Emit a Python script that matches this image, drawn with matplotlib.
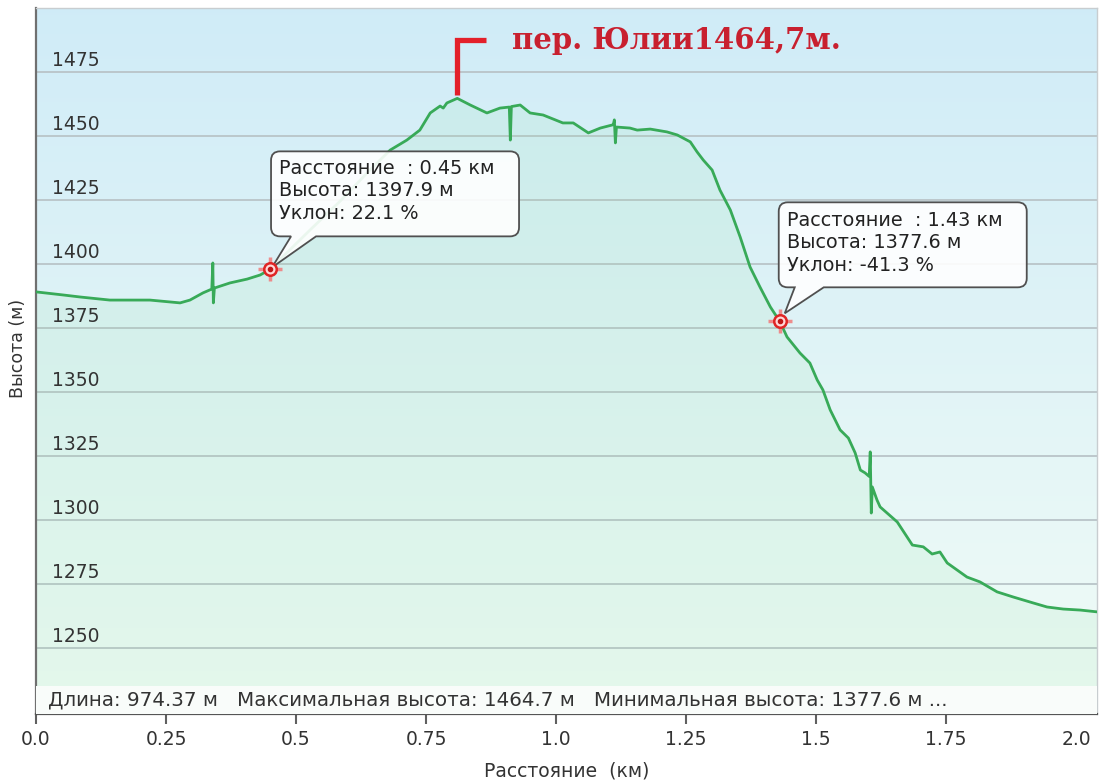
import numpy as np
import matplotlib
matplotlib.use("Agg")
import matplotlib.pyplot as plt
from matplotlib import transforms
from matplotlib.path import Path
from matplotlib.patches import PathPatch, Rectangle

# ---------------- data ----------------
dist_km = [0.000, 0.052, 0.085, 0.142, 0.219, 0.277, 0.296, 0.321, 0.338,
           0.340, 0.341, 0.343, 0.373, 0.406, 0.431, 0.450, 0.488, 0.527,
           0.585, 0.642, 0.681, 0.713, 0.738, 0.758, 0.777, 0.783, 0.790,
           0.810, 0.835, 0.867, 0.892, 0.910, 0.912, 0.914, 0.931, 0.950,
           0.975, 1.013, 1.033, 1.062, 1.085, 1.108, 1.110, 1.112, 1.114,
           1.116, 1.142, 1.156, 1.181, 1.213, 1.233, 1.258, 1.271, 1.283,
           1.300, 1.315, 1.335, 1.354, 1.373, 1.392, 1.412, 1.430, 1.444,
           1.469, 1.488, 1.502, 1.513, 1.527, 1.546, 1.562, 1.575, 1.585,
           1.594, 1.602, 1.604, 1.606, 1.608, 1.617, 1.623, 1.656, 1.685,
           1.706, 1.723, 1.738, 1.752, 1.790, 1.815, 1.848, 1.879, 1.917,
           1.944, 1.975, 2.008, 2.040]
elev_m = [1389.1, 1387.9, 1387.1, 1385.9, 1385.9, 1384.8, 1385.9, 1388.7, 1390.2,
          1400.4, 1384.8, 1390.6, 1392.6, 1394.1, 1395.7, 1397.9, 1405.5, 1413.3,
          1424.6, 1436.7, 1444.5, 1448.4, 1452.3, 1459.0, 1461.7, 1460.9, 1462.9,
          1464.7, 1462.1, 1459.0, 1460.9, 1461.3, 1448.4, 1461.5, 1462.1, 1459.0,
          1458.2, 1455.1, 1455.1, 1451.2, 1453.1, 1454.3, 1454.5, 1456.3, 1447.3,
          1453.5, 1453.1, 1452.3, 1452.7, 1451.6, 1450.4, 1447.7, 1443.8, 1440.6,
          1436.7, 1428.9, 1421.1, 1410.5, 1398.8, 1391.0, 1383.2, 1377.6, 1371.5,
          1365.2, 1361.3, 1354.7, 1350.8, 1343.0, 1335.2, 1332.0, 1326.2, 1319.5,
          1318.4, 1317.0, 1326.6, 1302.7, 1312.9, 1307.8, 1305.1, 1299.2, 1290.2,
          1289.5, 1286.7, 1287.5, 1283.2, 1277.7, 1275.8, 1271.9, 1269.9, 1267.6,
          1266.0, 1265.2, 1264.8, 1264.1]

x_ticks = [0.0, 0.25, 0.5, 0.75, 1.0, 1.25, 1.5, 1.75, 2.0]
x_tick_labels = ["0.0", "0.25", "0.5", "0.75", "1.0", "1.25", "1.5", "1.75", "2.0"]
y_ticks = [1250, 1275, 1300, 1325, 1350, 1375, 1400, 1425, 1450, 1475]

points_km = [0.45, 1.43]
points_elev = [1397.9, 1377.6]
points_text = [["Расстояние  : 0.45 км", "Высота: 1397.9 м", "Уклон: 22.1 %"],
               ["Расстояние  : 1.43 км", "Высота: 1377.6 м", "Уклон: -41.3 %"]]

peak_km, peak_elev = 0.81, 1464.7
peak_label = "пер. Юлии1464,7м."
summary = "Длина: 974.37 м   Максимальная высота: 1464.7 м   Минимальная высота: 1377.6 м ..."

# ---------------- figure ----------------
plt.rcParams['font.family'] = ['DejaVu Sans']
W, H = 1101, 784
fig = plt.figure(figsize=(W / 100, H / 100), dpi=100)
ax = fig.add_axes([36 / W, 1 - 714 / H, (1097 - 36) / W, (714 - 8) / H])
ax.set_xlim(0, 2.04)
ax.set_ylim(1224.2, 1500)

# background gradient
grad = np.linspace(0, 1, 256).reshape(-1, 1)
c_top = np.array([0.815, 0.925, 0.970])
c_bot = np.array([0.945, 0.988, 0.965])
img = c_top[None, None, :] * (1 - grad[:, :, None]) + c_bot[None, None, :] * grad[:, :, None]
ax.imshow(img, extent=[0, 1, 0, 1], transform=ax.transAxes, aspect='auto',
          zorder=0, interpolation='bilinear')

# grid
for v in y_ticks:
    ax.axhline(v, color='#b9c4c8', lw=1.3, zorder=1)

# fill under curve
ax.fill_between(dist_km, elev_m, 1200, color='#8ee0a2', alpha=0.12, lw=0, zorder=2)
ax.plot(dist_km, elev_m, color='#38aa58', lw=2.0, zorder=3, solid_joinstyle='round')

# bottom summary strip
ax.add_patch(Rectangle((0, 0), 1, 28 / 706, transform=ax.transAxes,
                       facecolor='#f9fcfa', edgecolor='none', zorder=4))
ax.text(12 / 1061, 14 / 706, summary, transform=ax.transAxes, fontsize=14.3,
        color='#333333', va='center', ha='left', zorder=5)

# y tick labels inside
ytrans = transforms.offset_copy(ax.get_yaxis_transform(), fig=fig, x=0, y=2, units='dots')
for v in y_ticks:
    ax.text(16 / 1061, v, str(v), transform=ytrans, fontsize=13.5, color='#333333',
            ha='left', va='bottom', zorder=5)

ax.set_yticks([])
ax.set_xticks(x_ticks)
ax.set_xticklabels(x_tick_labels, fontsize=13.5, color='#333333')
ax.tick_params(axis='x', direction='out', length=7.2, width=1.5, color='#606060', pad=4)
ax.xaxis.get_major_ticks()[-1].tick1line.set_visible(False)

for s in ['top', 'right']:
    ax.spines[s].set_color('#c8cdd0')
    ax.spines[s].set_linewidth(1)
ax.spines['left'].set_color('#707070')
ax.spines['left'].set_linewidth(1.6)
ax.spines['bottom'].set_color('#555555')
ax.spines['bottom'].set_linewidth(1.6)

ax.set_xlabel("Расстояние  (км)", fontsize=13.5, color='#333333', labelpad=9)
fig.text(18 / W, 1 - 348 / H, "Высота (м)", rotation=90, fontsize=12.5,
         color='#333333', ha='center', va='center')

# ---------------- tooltips ----------------
def tooltip_path(L, R, B, T, r, a1, a2, tip):
    verts = [(L + r, T), (R - r, T), (R, T), (R, T - r), (R, B + r), (R, B), (R - r, B),
             (a2, B), tip, (a1, B), (L + r, B), (L, B), (L, B + r), (L, T - r),
             (L, T), (L + r, T), (L + r, T)]
    codes = [Path.MOVETO, Path.LINETO, Path.CURVE3, Path.CURVE3, Path.LINETO,
             Path.CURVE3, Path.CURVE3, Path.LINETO, Path.LINETO, Path.LINETO,
             Path.LINETO, Path.CURVE3, Path.CURVE3, Path.LINETO, Path.CURVE3,
             Path.CURVE3, Path.CLOSEPOLY]
    return Path(verts, codes)

tip_geom = [dict(L=1, R=249, B=33, T=118, a1=21, a2=46, tip=(2, 2)),
            dict(L=-1, R=247, B=34, T=119, a1=15, a2=44, tip=(5, 8))]

for (px, py, lines, g) in zip(points_km, points_elev, points_text, tip_geom):
    tr = transforms.Affine2D() + transforms.ScaledTranslation(px, py, ax.transData)
    path = tooltip_path(g['L'], g['R'], g['B'], g['T'], 9, g['a1'], g['a2'], g['tip'])
    ax.add_patch(PathPatch(path, transform=tr, facecolor='white', alpha=0.9,
                           edgecolor='none', zorder=6, clip_on=False))
    ax.add_patch(PathPatch(path, transform=tr, facecolor='none', edgecolor='#505050',
                           lw=1.3, zorder=6, clip_on=False))
    for dy, line in zip([101, 78.5, 56], lines):
        ax.annotate(line, xy=(px, py), xytext=(g['L'] + 8, dy), textcoords='offset pixels',
                    fontsize=13.9, color='#222222', ha='left', va='center', zorder=7)
    # crosshair marker
    ax.plot([px], [py], marker='+', ms=17, mew=2.5, color='#f27a7a', alpha=0.85, zorder=8)
    ax.plot([px], [py], marker='o', ms=9, mfc='#ffd8d8', mec='#e02525', mew=1.8, zorder=8)
    ax.plot([px], [py], marker='o', ms=3, color='#c01818', zorder=9)

# ---------------- peak label ----------------
ptr = transforms.Affine2D() + transforms.ScaledTranslation(peak_km, peak_elev, ax.transData)
ax.plot([0, 0, 29], [3, 58, 58], transform=ptr, color='#e3202a', lw=3.8,
        solid_joinstyle='miter', solid_capstyle='butt', zorder=8, clip_on=False)
ax.annotate(peak_label, xy=(peak_km, peak_elev), xytext=(55, 58), textcoords='offset pixels',
            fontsize=21, fontweight='bold', family='DejaVu Serif', color='#c8202f',
            ha='left', va='center', zorder=8)

fig.savefig("out.png", dpi=100)
